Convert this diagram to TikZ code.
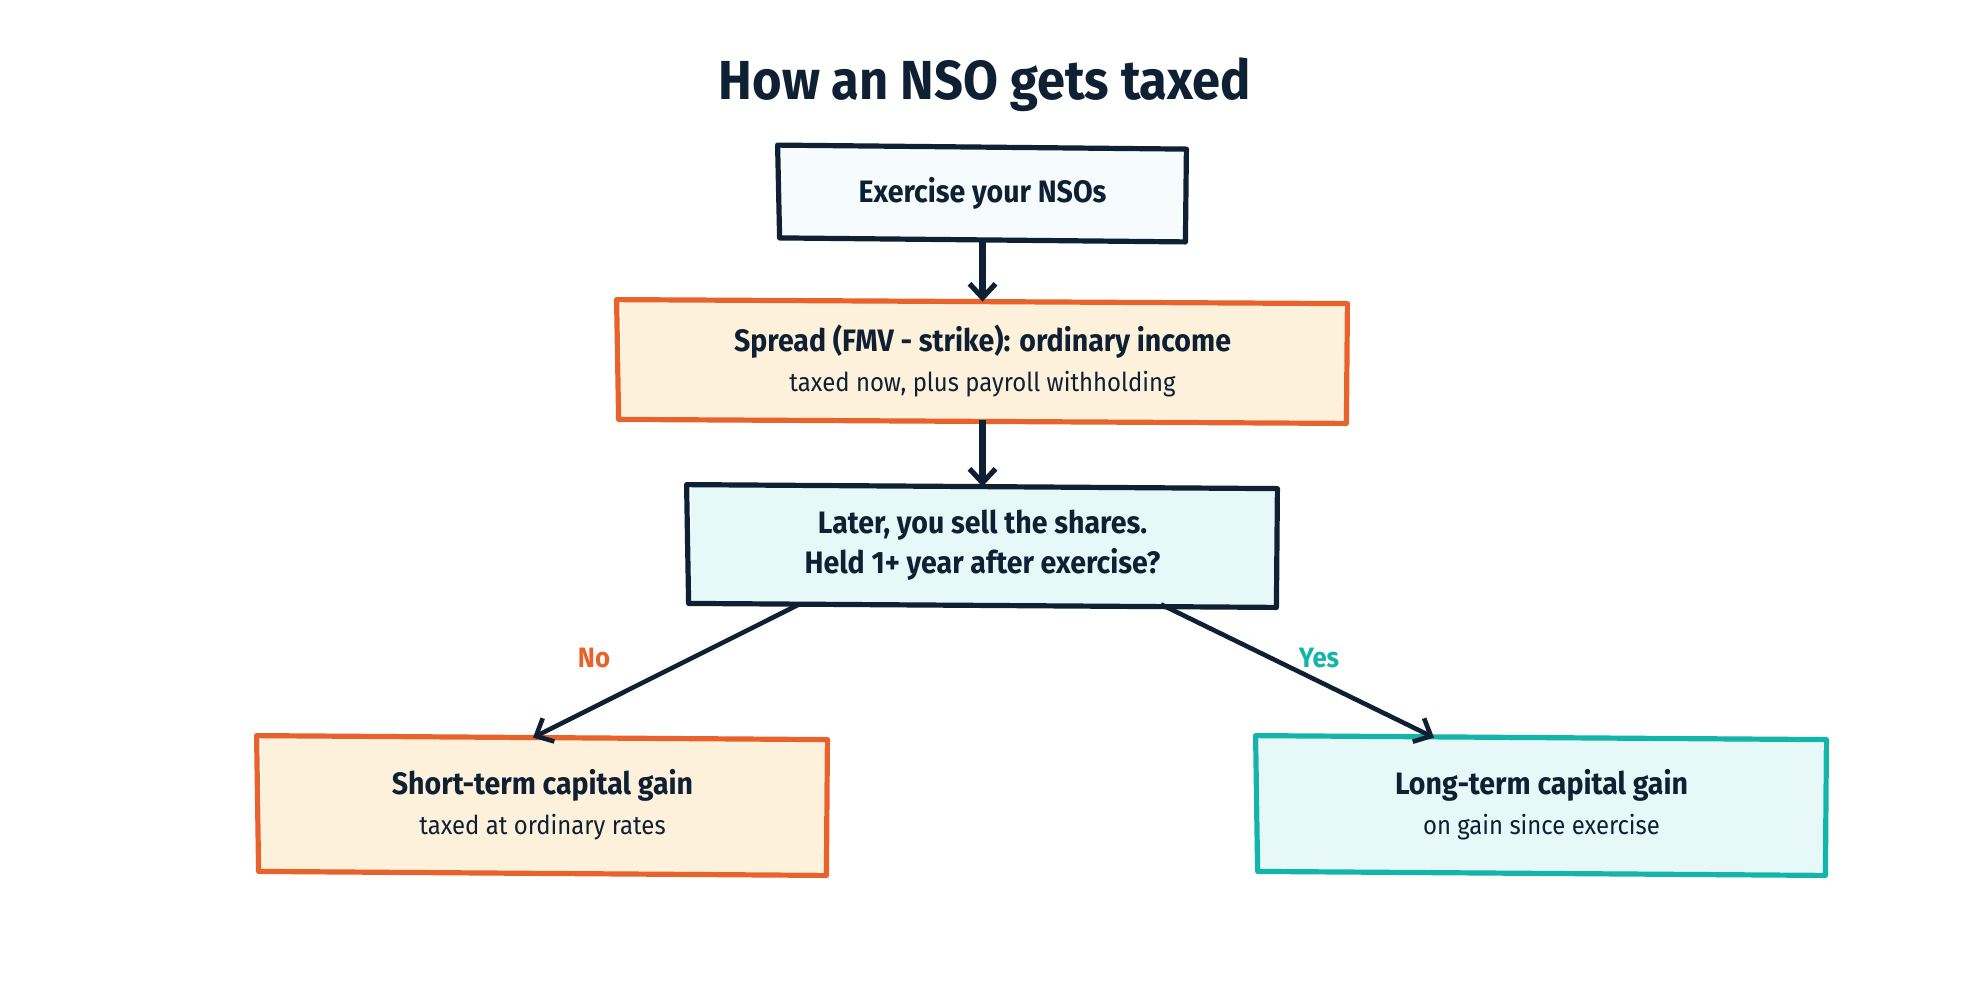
\documentclass[tikz,border=0pt]{standalone}
\usepackage{fontspec}
\setmainfont{Fira Sans}[FakeStretch=0.92]
\usetikzlibrary{arrows.meta}
\definecolor{ink}{HTML}{0F2033}
\definecolor{orng}{HTML}{E8622C}
\definecolor{cream}{HTML}{FDF1DC}
\definecolor{teal}{HTML}{13B5A8}
\definecolor{lteal}{HTML}{E6F8F7}
\definecolor{pale}{HTML}{F6FCFD}
\tikzset{
  boxfill/.style={rectangle, inner sep=0pt, align=center, text=ink, font=\fontsize{13}{20}\selectfont},
  outline/.style={line width=2.6pt, line join=round, line cap=round},
  vflow/.style={draw=ink, line width=3.6pt, -{Straight Barb[length=7pt,width=13pt,line width=2.6pt]}},
  dflow/.style={draw=ink, line width=2.3pt, -{Straight Barb[length=7pt,width=13pt,line width=2.3pt]}},
  branch/.style={font=\bfseries\fontsize{14}{16}\selectfont},
}
\newcommand{\mainfnt}{\bfseries\fontsize{15.5}{20}\selectfont}
\newcommand{\subfnt}{\mdseries\fontsize{13}{20}\selectfont}
\newcommand{\sketchoutline}[2]{%
  \draw[outline, #2] ([shift={(-4,-2)}]#1.north west) -- ([shift={(3,2)}]#1.north east)
    -- ([shift={(2,3)}]#1.south east) -- ([shift={(-2,-1)}]#1.south west) -- cycle;}
\begin{document}
\begin{tikzpicture}[x=0.5pt,y=-0.5pt]
\useasboundingbox (0,0) rectangle (1968,992);
\fill[white] (0,0) rectangle (1968,992);

\node[text=ink, font=\bfseries\fontsize{27.5}{32}\selectfont] (title) at (985,85) {How an NSO gets taxed};

\node[boxfill, fill=pale, minimum width=200.5pt, minimum height=45.5pt] (b1) at (982.5,193)
  {\mainfnt Exercise your NSOs};
\node[boxfill, fill=cream, minimum width=361.5pt, minimum height=59pt] (b2) at (982.5,361)
  {{\mainfnt Spread (FMV - strike): ordinary income}\\
   {\subfnt taxed now, plus payroll withholding}};
\node[boxfill, fill=lteal, minimum width=291.5pt, minimum height=58.5pt] (b3) at (982.5,545.5)
  {\mainfnt Later, you sell the shares.\\
   \mainfnt Held 1+ year after exercise?};
\node[boxfill, fill=cream, minimum width=281.5pt, minimum height=67pt] (b4) at (542.5,805)
  {{\mainfnt Short-term capital gain}\\
   {\subfnt taxed at ordinary rates}};
\node[boxfill, fill=lteal, minimum width=281.5pt, minimum height=67pt] (b5) at (1541.5,805)
  {{\mainfnt Long-term capital gain}\\
   {\subfnt on gain since exercise}};

\sketchoutline{b1}{ink}
\sketchoutline{b2}{orng}
\sketchoutline{b3}{ink}
\sketchoutline{b4}{orng}
\sketchoutline{b5}{teal}

\draw[vflow] (b1.south) -- (b2.north);
\draw[vflow] (b2.south) -- (b3.north);
\draw[dflow] ([shift={(-183.5,0)}]b3.south) -- ([shift={(-9.5,0)}]b4.north);
\draw[dflow] ([shift={(178.5,0)}]b3.south) -- ([shift={(-107.5,0)}]b5.north);

\node[branch, text=orng] (no) at (594,658) {No};
\node[branch, text=teal] (yes) at (1319,658) {Yes};
\end{tikzpicture}
\end{document}
